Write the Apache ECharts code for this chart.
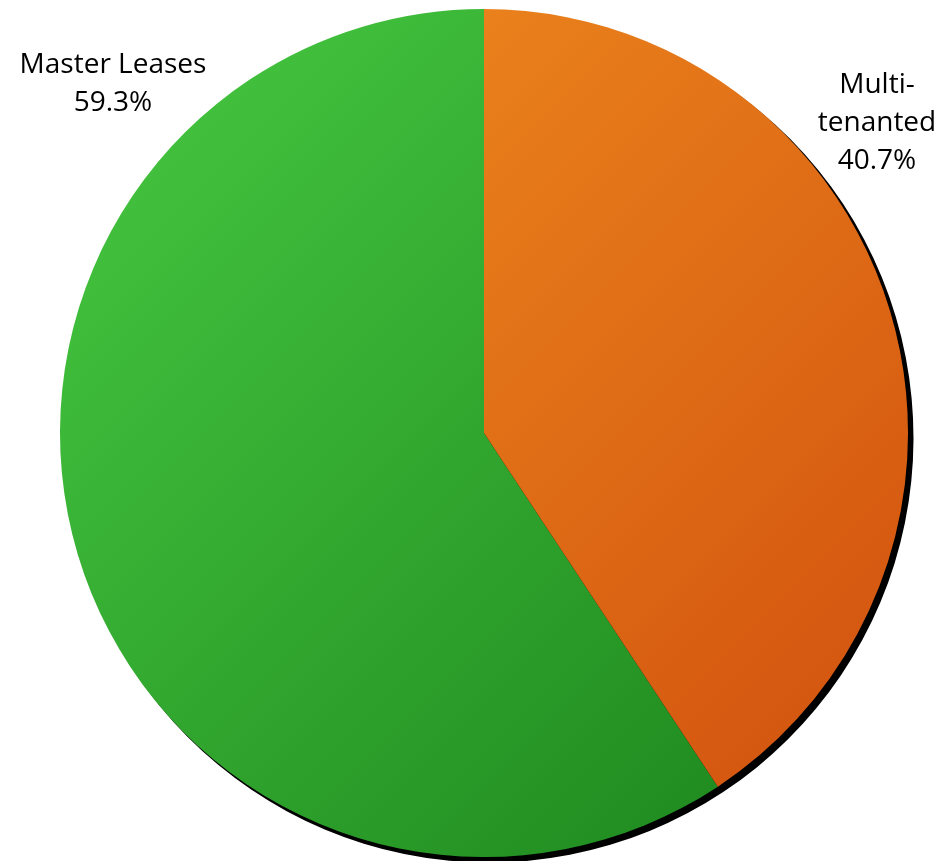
<!DOCTYPE html>
<html>
<head>
<meta charset="utf-8">
<script src="https://cdn.jsdelivr.net/npm/echarts@6/dist/echarts.min.js"></script>
<style>html,body{margin:0;padding:0;background:#fff}#c{width:941px;height:861px}</style>
</head>
<body>
<div id="c"></div>
<script>
const categories = ['Master Leases', 'Multi-\ntenanted'];
const values = [59.3, 40.7];
const labelPos = [[113, 84], [877, 123]];

const chart = echarts.init(document.getElementById('c'), null, {renderer: 'canvas'});
const total = values.reduce((a, b) => a + b, 0);
const grad = (c0, c1) => ({
  type: 'linear', x: 60, y: 9, x2: 908, y2: 857, global: true,
  colorStops: [{offset: 0, color: c0}, {offset: 1, color: c1}]
});
const fills = [grad('#48CA42', '#1A821B'), grad('#F29220', '#D04E0E')];
const startAngle = 90 - 360 * values[1] / total;

chart.setOption({
  animation: false,
  series: [{
    // drop shadow disc behind the pie
    type: 'pie',
    silent: true,
    z: 1,
    center: [489, 438],
    radius: [0, 424.5],
    startAngle: startAngle,
    data: [{name: 'shadow', value: total}],
    itemStyle: {color: '#000', borderWidth: 0},
    label: {show: false},
    labelLine: {show: false},
    emphasis: {disabled: true},
    tooltip: {show: false}
  }, {
    type: 'pie',
    z: 2,
    center: [484, 433],
    radius: [0, 424],
    clockwise: true,
    startAngle: startAngle,
    data: categories.map((n, i) => ({
      name: n, value: values[i],
      itemStyle: {color: fills[i]}
    })),
    itemStyle: {borderWidth: 0},
    label: {
      show: true,
      position: 'inside',
      overflow: 'none',
      formatter: p => p.name + '\n' + p.value.toFixed(1) + '%',
      fontFamily: 'Open Sans',
      fontSize: 28,
      lineHeight: 38,
      color: '#000',
      align: 'center',
      textBorderWidth: 0
    },
    labelLine: {show: false},
    labelLayout: p => ({
      x: labelPos[p.dataIndex][0],
      y: labelPos[p.dataIndex][1],
      align: 'center',
      verticalAlign: 'middle'
    }),
    emphasis: {disabled: true}
  }]
});
</script>
</body>
</html>
